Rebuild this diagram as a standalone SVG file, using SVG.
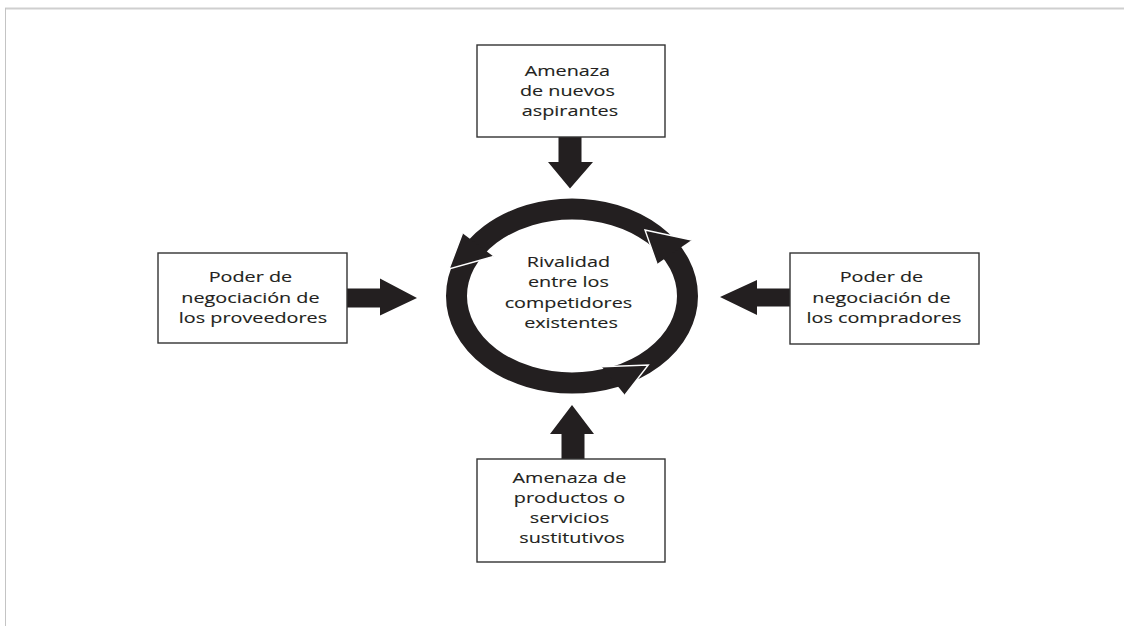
<svg xmlns="http://www.w3.org/2000/svg" width="1124" height="626" viewBox="0 0 1124 626">
  <style>
    .box { fill: #ffffff; stroke: #333333; stroke-width: 1.4; }
    .lbl { font-family: "Open Sans", "Liberation Sans", sans-serif; font-size: 15px; fill: #231f20; stroke: #231f20; stroke-width: 0.12; text-anchor: middle; }
    .arrow { fill: #231f20; }
    .ring { fill: none; stroke: #231f20; stroke-width: 21; }
    .head { fill: #231f20; stroke: #ffffff; stroke-width: 1.4; stroke-linejoin: miter; }
  </style>

  <!-- page frame -->
  <rect x="0" y="0" width="1124" height="626" fill="#ffffff"/>
  <line x1="5" y1="8.5" x2="1124" y2="8.5" stroke="#cfcfcf" stroke-width="2"/>
  <line x1="5.5" y1="8" x2="5.5" y2="626" stroke="#c4c4c4" stroke-width="1"/>

  <!-- connectors: four straight block arrows and the rotating ring -->
  <g id="connectors">
    <!-- from the top box, pointing down -->
    <polygon class="arrow" points="558.5,137 581.5,137 581.5,162 593,162 570,188.5 548,162 558.5,162"/>
    <!-- from the bottom box, pointing up -->
    <polygon class="arrow" points="561.5,459 584.5,459 584.5,434 594,434 572,405 550,434 561.5,434"/>
    <!-- from the left box, pointing right -->
    <polygon class="arrow" points="347,288.5 380,288.5 380,278.5 417,298 380,315.5 380,307.5 347,307.5"/>
    <!-- from the right box, pointing left -->
    <polygon class="arrow" points="790,288.5 757,288.5 757,280 720,297 757,315 757,306.5 790,306.5"/>

    <!-- rivalry ring -->
    <ellipse class="ring" cx="572" cy="296" rx="115.5" ry="87"/>
    <!-- ring arrowheads (only the two tip edges are outlined) -->
    <path class="head" d="M462.5,233.3 L449,269 L493.5,256.5"/>
    <path class="head" d="M601.7,366.7 L648.3,365 L625,395"/>
    <path class="head" d="M691.7,240 L645,230 L657,264"/>
  </g>

  <g id="node-nuevos-aspirantes">
    <rect class="box" x="477" y="45" width="188" height="92"/>
    <text class="lbl" transform="matrix(1.32 0 0 1 570 0)">
      <tspan x="0" y="76">Amenaza</tspan>
      <tspan x="0" y="96">de nuevos</tspan>
      <tspan x="0" y="116">aspirantes</tspan>
    </text>
  </g>

  <g id="node-sustitutivos">
    <rect class="box" x="477" y="459" width="188" height="103"/>
    <text class="lbl" transform="matrix(1.32 0 0 1 572 0)">
      <tspan x="0" y="483.5">Amenaza de</tspan>
      <tspan x="0" y="503.5">productos o</tspan>
      <tspan x="0" y="523.5">servicios</tspan>
      <tspan x="0" y="543.5">sustitutivos</tspan>
    </text>
  </g>

  <g id="node-proveedores">
    <rect class="box" x="158" y="253" width="189" height="90"/>
    <text class="lbl" transform="matrix(1.32 0 0 1 253 0)">
      <tspan x="0" y="282.5">Poder de</tspan>
      <tspan x="0" y="303">negociación de</tspan>
      <tspan x="0" y="323.5">los proveedores</tspan>
    </text>
  </g>

  <g id="node-compradores">
    <rect class="box" x="790" y="253" width="189" height="91"/>
    <text class="lbl" transform="matrix(1.32 0 0 1 884 0)">
      <tspan x="0" y="282.5">Poder de</tspan>
      <tspan x="0" y="303">negociación de</tspan>
      <tspan x="0" y="323.5">los compradores</tspan>
    </text>
  </g>

  <g id="node-rivalidad">
    <text class="lbl" transform="matrix(1.32 0 0 1 571 0)">
      <tspan x="0" y="267">Rivalidad</tspan>
      <tspan x="0" y="287.5">entre los</tspan>
      <tspan x="0" y="308">competidores</tspan>
      <tspan x="0" y="328.5">existentes</tspan>
    </text>
  </g>
</svg>
